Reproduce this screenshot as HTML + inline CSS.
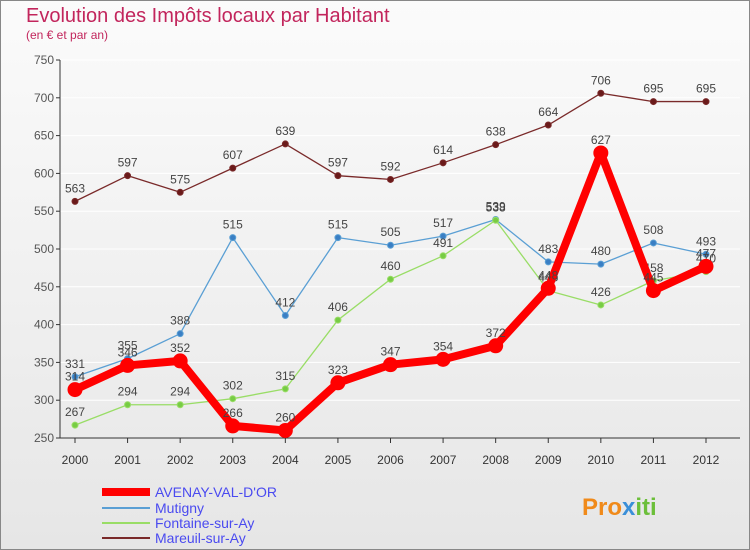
<!DOCTYPE html>
<html><head><meta charset="utf-8"><style>
body{margin:0;}
#c{width:750px;height:550px;position:relative;overflow:hidden;background:linear-gradient(#fbfbfb,#e6e6e6);font-family:"Liberation Sans",sans-serif;}
svg text{font-family:"Liberation Sans",sans-serif;}
</style></head><body>
<div id="c">
<svg width="750" height="550" id="svg">
<rect x="0.5" y="0.5" width="749" height="549" fill="none" stroke="#888"/>
<text x="26" y="22" font-size="20" fill="#c2255c">Evolution des Impôts locaux par Habitant</text>
<text x="26" y="39" font-size="12" fill="#c2255c">(en € et par an)</text>
<g id="axes"></g><g id="series"></g>
<g>
<line x1="102" y1="492" x2="150" y2="492" stroke="#f00" stroke-width="8"/>
<text x="155" y="497" font-size="14" fill="#4a4af0">AVENAY-VAL-D'OR</text>
<line x1="102" y1="508" x2="150" y2="508" stroke="#5a9fd4" stroke-width="2"/>
<text x="155" y="513" font-size="14" fill="#4a4af0">Mutigny</text>
<line x1="102" y1="523" x2="150" y2="523" stroke="#99dd66" stroke-width="2"/>
<text x="155" y="528" font-size="14" fill="#4a4af0">Fontaine-sur-Ay</text>
<line x1="102" y1="538" x2="150" y2="538" stroke="#7a2a2a" stroke-width="2"/>
<text x="155" y="543" font-size="14" fill="#4a4af0">Mareuil-sur-Ay</text>
</g>
<text x="582" y="515" font-size="24" font-weight="bold" fill="#f08a1a">Pro<tspan fill="#3a8fd8">x</tspan><tspan fill="#6cbf3a">iti</tspan></text>
</svg></div>
<script>
const years=[2000,2001,2002,2003,2004,2005,2006,2007,2008,2009,2010,2011,2012];
const yTicks=[250,300,350,400,450,500,550,600,650,700,750];
const avenay=[314,346,352,266,260,323,347,354,372,448,627,445,477];
const mutigny=[331,355,388,515,412,515,505,517,539,483,480,508,493];
const fontaine=[267,294,294,302,315,406,460,491,538,445,426,458,470];
const mareuil=[563,597,575,607,639,597,592,614,638,664,706,695,695];
const NS="http://www.w3.org/2000/svg";
const xS=i=>75+i*(706-75)/(years.length-1);
const yS=v=>438-(v-250)*(378/500);
function mk(t,a,p){const e=document.createElementNS(NS,t);for(const k in a)e.setAttribute(k,a[k]);p.appendChild(e);return e;}
const ax=document.getElementById('axes');
yTicks.forEach(t=>{
 const y=yS(t);
 const g=mk('line',{x1:60,x2:740,y1:y,y2:y,stroke:'#fff','stroke-width':1},ax);
 
 
 const tk=mk('line',{x1:56,x2:60,y1:y,y2:y,stroke:'#333'},ax);
 
 
 const tx=mk('text',{x:54,y:y+4,'font-size':12,fill:'#555','text-anchor':'end'},ax);
 tx.textContent=t;
 
 
});
const yl=mk('line',{x1:60,x2:60,y1:60,y2:438,stroke:'#333'},ax);


const xl=mk('line',{x1:60,x2:740,y1:438,y2:438,stroke:'#333'},ax);


years.forEach((yr,i)=>{
 const x=xS(i);
 const tk=mk('line',{x1:x,x2:x,y1:438,y2:443,stroke:'#333'},ax);
 
 
 const t=mk('text',{x:x,y:464,'font-size':12,fill:'#333','text-anchor':'middle'},ax);
 t.textContent=yr;
 
 
});
const sg=document.getElementById('series');
function series(name,vals,color,w,r,dot){
 const g=mk('g',{},sg);
 
 
 const pl=mk('polyline',{points:vals.map((v,i)=>xS(i)+','+yS(v)).join(' '),fill:'none',stroke:color,'stroke-width':w,'stroke-linejoin':'round'},g);
 
 
 vals.forEach((v,i)=>{
  const c=mk('circle',{cx:xS(i),cy:yS(v),r:r,fill:dot,stroke:color,'stroke-width':1},g);
  
  
  const t=mk('text',{x:xS(i),y:yS(v)-9,'font-size':12,fill:'#444','text-anchor':'middle'},g);
  t.textContent=v;
  
  
 });
}
series('mareuil',mareuil,'#7a2a2a',1.3,3,'#6a1a1a');
series('mutigny',mutigny,'#5a9fd4',1.3,3,'#3a7fc4');
series('fontaine',fontaine,'#99dd66',1.3,3,'#77cc44');
series('avenay',avenay,'#ff0000',8,7,'#ff0000');
</script>
</body></html>
